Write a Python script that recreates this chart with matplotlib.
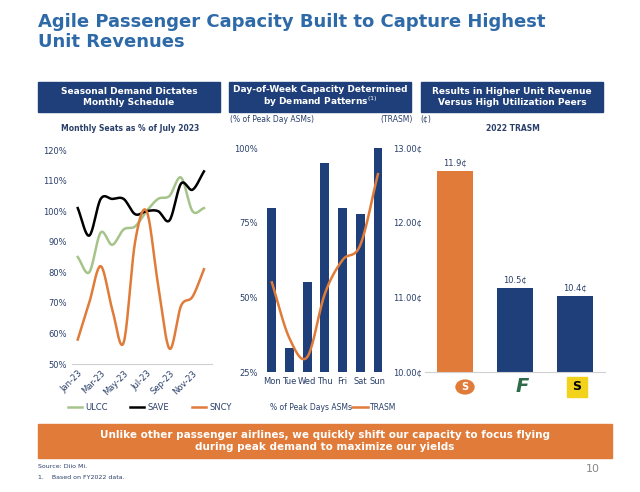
import matplotlib
matplotlib.use("Agg")
import matplotlib.pyplot as plt
from matplotlib.patches import Rectangle, Circle
import numpy as np

months = ["Jan-23","Feb-23","Mar-23","Apr-23","May-23","Jun-23","Jul-23","Aug-23","Sep-23","Oct-23","Nov-23","Dec-23"]
ulcc = [85,80,93,89,94,95,100,104,105,111,100,101]
save = [101,92,104,104,104,99,100,100,97,109,107,113]
sncy = [58,70,82,68,57,90,100,76,55,69,72,81]

days = ["Mon","Tue","Wed","Thu","Fri","Sat","Sun"]
peak_pct = [80,33,55,95,80,78,100]
trasm = [11.2,10.45,10.2,11.05,11.5,11.7,12.65]

carriers = ["SNCY","ULCC","SAVE"]
trasm_2022 = [11.9,10.5,10.4]

NAVY = "#1f3f7a"; ORANGE = "#e07b39"; GREEN = "#a6c48a"; TXT = "#2a3f6a"

def smooth(xs, ys, n=20):
    xs = np.asarray(xs, float); ys = np.asarray(ys, float)
    px = np.concatenate([[2*xs[0]-xs[1]], xs, [2*xs[-1]-xs[-2]]])
    py = np.concatenate([[2*ys[0]-ys[1]], ys, [2*ys[-1]-ys[-2]]])
    ox, oy = [], []
    t = np.linspace(0, 1, n, endpoint=False)
    for i in range(1, len(px)-2):
        for P, out in ((px, ox), (py, oy)):
            p0, p1, p2, p3 = P[i-1], P[i], P[i+1], P[i+2]
            out.extend(0.5*((2*p1) + (-p0+p2)*t + (2*p0-5*p1+4*p2-p3)*t**2 + (-p0+3*p1-3*p2+p3)*t**3))
    ox.append(xs[-1]); oy.append(ys[-1])
    return np.array(ox), np.array(oy)

fig = plt.figure(figsize=(6.4,4.92), dpi=100)
fig.patch.set_facecolor("white")
W,H = 640,492
def fx(x): return x/W
def fy(y): return 1-y/H

fig.text(fx(38),fy(32),"Agile Passenger Capacity Built to Capture Highest\nUnit Revenues",
         color="#2f6aa8",fontsize=13,fontweight="bold",va="center",ha="left",linespacing=1.1)

def header(x0,x1,text):
    fig.patches.append(Rectangle((fx(x0),fy(112)),fx(x1-x0),(112-82)/H,transform=fig.transFigure,color=NAVY))
    fig.text(fx((x0+x1)/2),fy(97),text,color="white",fontsize=6.5,fontweight="bold",ha="center",va="center",linespacing=1.15)
header(38,220,"Seasonal Demand Dictates\nMonthly Schedule")
header(229,411,"Day-of-Week Capacity Determined\nby Demand Patterns$^{(1)}$")
header(421,603,"Results in Higher Unit Revenue\nVersus High Utilization Peers")

# Panel 1
ax1 = fig.add_axes([fx(72),fy(364),fx(140),(364-150)/H])
x = np.arange(12)
for d,c in ((ulcc,GREEN),(save,"black"),(sncy,ORANGE)):
    sx, sy = smooth(x, d)
    ax1.plot(sx, sy, color=c, lw=1.8)
ax1.set_ylim(50,120); ax1.set_xlim(-0.5,11.7)
ax1.set_yticks(range(50,121,10)); ax1.set_yticklabels([f"{v}%" for v in range(50,121,10)])
ax1.set_xticks(range(0,12,2)); ax1.set_xticklabels(months[::2], rotation=45, ha="right", rotation_mode="anchor")
for s in ("top","right","left"): ax1.spines[s].set_visible(False)
ax1.spines["bottom"].set_color("#d0d0d0")
ax1.tick_params(length=0, labelsize=6, colors=TXT)
fig.text(fx(130),fy(131),"Monthly Seats as % of July 2023",fontsize=5.5,fontweight="bold",color=TXT,ha="center")
for i,(lab,c) in enumerate((("ULCC",GREEN),("SAVE","black"),("SNCY",ORANGE))):
    x0 = 68+i*62
    fig.lines.append(plt.Line2D([fx(x0),fx(x0+14)],[fy(407),fy(407)],transform=fig.transFigure,color=c,lw=1.8))
    fig.text(fx(x0+17),fy(407),lab,fontsize=6,color=TXT,va="center")

# Panel 2
ax2 = fig.add_axes([fx(263),fy(372),fx(122),(372-148)/H])
xd = np.arange(7)
ax2.bar(xd, peak_pct, width=0.5, color=NAVY)
ax2.set_ylim(25,100); ax2.set_xlim(-0.5,6.4)
ax2.set_yticks([25,50,75,100]); ax2.set_yticklabels(["25%","50%","75%","100%"])
ax2.set_xticks(xd); ax2.set_xticklabels(days)
for s in ("top","right","left","bottom"): ax2.spines[s].set_visible(False)
ax2.tick_params(length=0, labelsize=6, colors=TXT)
ax2b = ax2.twinx()
sx, sy = smooth(xd, trasm)
ax2b.plot(sx, sy, color=ORANGE, lw=1.8)
ax2b.set_ylim(10,13)
ax2b.set_yticks([10,11,12,13]); ax2b.set_yticklabels(["10.00¢","11.00¢","12.00¢","13.00¢"])
for s in ("top","right","left","bottom"): ax2b.spines[s].set_visible(False)
ax2b.tick_params(length=0, labelsize=6, colors=TXT, pad=6)
fig.text(fx(230),fy(119),"(% of Peak Day ASMs)",fontsize=5.5,color=TXT,va="center")
fig.text(fx(380),fy(119),"(TRASM)",fontsize=5.5,color=TXT,va="center")
fig.text(fx(270),fy(407),"% of Peak Days ASMs",fontsize=5.5,color=TXT,va="center")
fig.lines.append(plt.Line2D([fx(352),fx(368)],[fy(407),fy(407)],transform=fig.transFigure,color=ORANGE,lw=1.8))
fig.text(fx(370),fy(407),"TRASM",fontsize=5.5,color=TXT,va="center")

# Panel 3
ax3 = fig.add_axes([fx(425),fy(372),fx(180),(372-148)/H])
xc = np.arange(3)
ax3.bar(xc, trasm_2022, width=0.6, color=[ORANGE,NAVY,NAVY])
ax3.set_ylim(9.5,12.17); ax3.set_xlim(-0.5,2.5)
for xi,v in zip(xc,trasm_2022):
    ax3.text(xi, v+0.04, f"{v:.1f}¢", ha="center", va="bottom", fontsize=6, color=TXT)
ax3.set_xticks([]); ax3.set_yticks([])
for s in ("top","right","left"): ax3.spines[s].set_visible(False)
ax3.spines["bottom"].set_color("#d0d0d0")
fig.text(fx(420),fy(119),"(¢)",fontsize=5.5,color=TXT,va="center")
fig.text(fx(513),fy(131),"2022 TRASM",fontsize=5.5,fontweight="bold",color=TXT,ha="center")
# logos
fig.patches.append(Circle((fx(465),fy(387)),9/W,transform=fig.transFigure,color=ORANGE))
fig.text(fx(465),fy(387),"S",fontsize=7,color="white",fontweight="bold",ha="center",va="center")
fig.text(fx(522),fy(387),"F",fontsize=14,color="#2d6b4a",fontweight="bold",style="italic",ha="center",va="center")
fig.patches.append(Rectangle((fx(567),fy(397)),20/W,20/H,transform=fig.transFigure,color="#f2d21b"))
fig.text(fx(577),fy(387),"S",fontsize=9,color="black",fontweight="bold",ha="center",va="center")

# banner
fig.patches.append(Rectangle((fx(38),fy(458)),fx(574),(458-424)/H,transform=fig.transFigure,color=ORANGE))
fig.text(fx(325),fy(441),"Unlike other passenger airlines, we quickly shift our capacity to focus flying\nduring peak demand to maximize our yields",
         color="white",fontsize=7.5,fontweight="bold",ha="center",va="center",linespacing=1.3)
fig.text(fx(38),fy(468),"Source: Diio Mi.",fontsize=4.5,color=TXT)
fig.text(fx(38),fy(479),"1.    Based on FY2022 data.",fontsize=4.5,color=TXT)
fig.text(fx(586),fy(472),"10",fontsize=8,color="#888888")

fig.savefig("out.png", dpi=100)
